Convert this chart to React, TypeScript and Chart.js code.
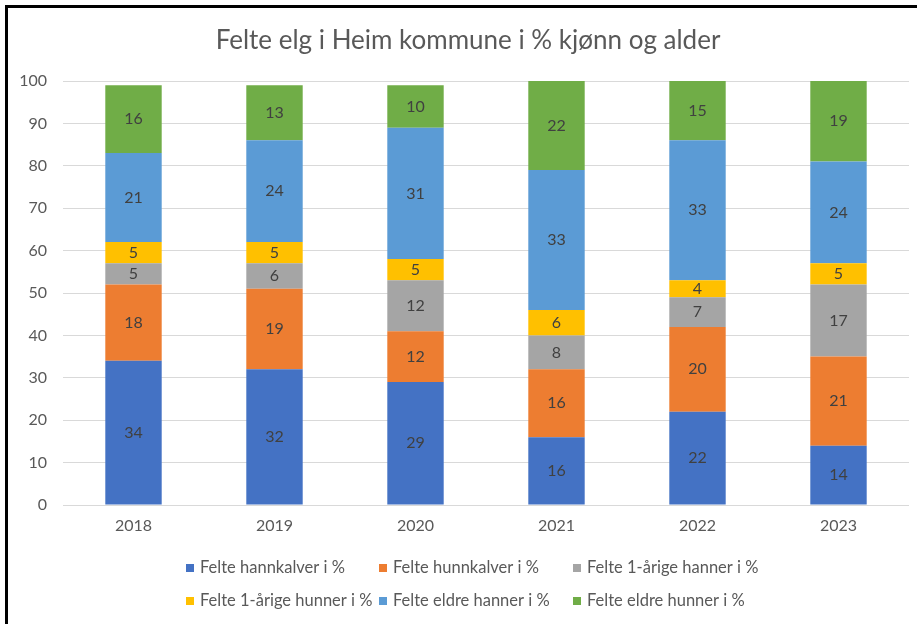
import React, { useEffect, useRef } from "react";
import { Chart, registerables } from "chart.js";

Chart.register(...registerables);

const years = ["2018", "2019", "2020", "2021", "2022", "2023"];
const hannkalver = [34, 32, 29, 16, 22, 14];
const hunnkalver = [18, 19, 12, 16, 20, 21];
const hanner1 = [5, 6, 12, 8, 7, 17];
const hunner1 = [5, 5, 5, 6, 4, 5];
const eldreHanner = [21, 24, 31, 33, 33, 24];
const eldreHunner = [16, 13, 10, 22, 15, 19];

const seriesNames = [
  "Felte hannkalver i %",
  "Felte hunnkalver i %",
  "Felte 1-årige hanner i %",
  "Felte 1-årige hunner i %",
  "Felte eldre hanner i %",
  "Felte eldre hunner i %",
];
const seriesValues = [hannkalver, hunnkalver, hanner1, hunner1, eldreHanner, eldreHunner];
const colors = ["#4472C4", "#ED7D31", "#A5A5A5", "#FFC000", "#5B9BD5", "#70AD47"];
const titleText = "Felte elg i Heim kommune i % kjønn og alder";
const yMin = 0;
const yMax = 100;
const yStep = 10;

const FONT = "Lato";
const TEXT_GRAY = "#595959";
const LABEL_GRAY = "#404040";

const framePlugin = {
  id: "frame",
  beforeDraw(chart: any) {
    const ctx = chart.ctx;
    ctx.save();
    ctx.fillStyle = "#ffffff";
    ctx.fillRect(0, 0, chart.width, chart.height);
    ctx.fillStyle = "#000000";
    ctx.fillRect(5, 5, 3, chart.height - 5);
    ctx.fillRect(5, 5, chart.width - 5, 3);
    ctx.restore();
  },
  afterDraw(chart: any) {
    const ctx = chart.ctx;
    ctx.save();
    ctx.font = `26px ${FONT}`;
    ctx.fillStyle = TEXT_GRAY;
    ctx.textAlign = "center";
    ctx.textBaseline = "alphabetic";
    ctx.fillText(titleText, 468, 49);
    ctx.restore();
  },
};

const dataLabelPlugin = {
  id: "dataLabels",
  afterDatasetsDraw(chart: any) {
    const ctx = chart.ctx;
    const area = chart.chartArea;
    ctx.save();
    ctx.font = `16px ${FONT}`;
    ctx.fillStyle = LABEL_GRAY;
    ctx.textAlign = "center";
    ctx.textBaseline = "middle";
    chart.data.datasets.forEach((ds: any, di: number) => {
      const meta = chart.getDatasetMeta(di);
      meta.data.forEach((el: any, i: number) => {
        const p = el.getProps(["x", "y", "base"], true);
        const top = Math.max(Math.min(p.y, p.base), area.top);
        const bottom = Math.min(Math.max(p.y, p.base), area.bottom);
        ctx.fillText(String(ds.data[i]), p.x, (top + bottom) / 2);
      });
    });
    ctx.restore();
  },
};

const legendPlugin = {
  id: "gridLegend",
  afterDraw(chart: any) {
    const ctx = chart.ctx;
    const cols = [186, 379, 573];
    const rows = [568, 601];
    ctx.save();
    ctx.font = `16.5px ${FONT}`;
    ctx.textBaseline = "middle";
    ctx.textAlign = "left";
    seriesNames.forEach((name, i) => {
      const x = cols[i % 3];
      const y = rows[Math.floor(i / 3)];
      ctx.fillStyle = colors[i];
      ctx.fillRect(x, y - 4, 8, 8);
      ctx.fillStyle = TEXT_GRAY;
      ctx.fillText(name, x + 14, y);
    });
    ctx.restore();
  },
};

export default function App() {
  const ref = useRef<HTMLCanvasElement | null>(null);

  useEffect(() => {
    if (!ref.current) return;
    const chart = new Chart(ref.current, {
      type: "bar",
      data: {
        labels: years,
        datasets: seriesNames.map((name, i) => ({
          label: name,
          data: seriesValues[i],
          backgroundColor: colors[i],
          borderWidth: 0,
          barPercentage: 0.4,
          categoryPercentage: 1,
        })),
      },
      options: {
        animation: false,
        responsive: false,
        devicePixelRatio: 1,
        layout: { padding: { left: 0, right: 8, top: 81, bottom: 79 } },
        plugins: {
          legend: { display: false },
          tooltip: { enabled: false },
          title: { display: false },
        },
        scales: {
          x: {
            stacked: true,
            grid: { display: false, drawTicks: false },
            border: { display: false },
            ticks: { color: TEXT_GRAY, font: { family: FONT, size: 16 }, padding: 11 },
            afterFit(scale: any) {
              scale.height = 40;
            },
          },
          y: {
            stacked: true,
            min: yMin,
            max: yMax,
            ticks: { stepSize: yStep, color: TEXT_GRAY, font: { family: FONT, size: 16 }, padding: 16 },
            grid: { color: "#D9D9D9", lineWidth: 1, drawTicks: false },
            border: { display: false },
            afterFit(scale: any) {
              scale.width = 63;
            },
          },
        },
      },
      plugins: [framePlugin, dataLabelPlugin, legendPlugin],
    } as any);
    return () => chart.destroy();
  }, []);

  return (
    <div style={{ position: "absolute", left: 0, top: 0, width: 917, height: 624 }}>
      <canvas ref={ref} width={917} height={624} />
    </div>
  );
}
